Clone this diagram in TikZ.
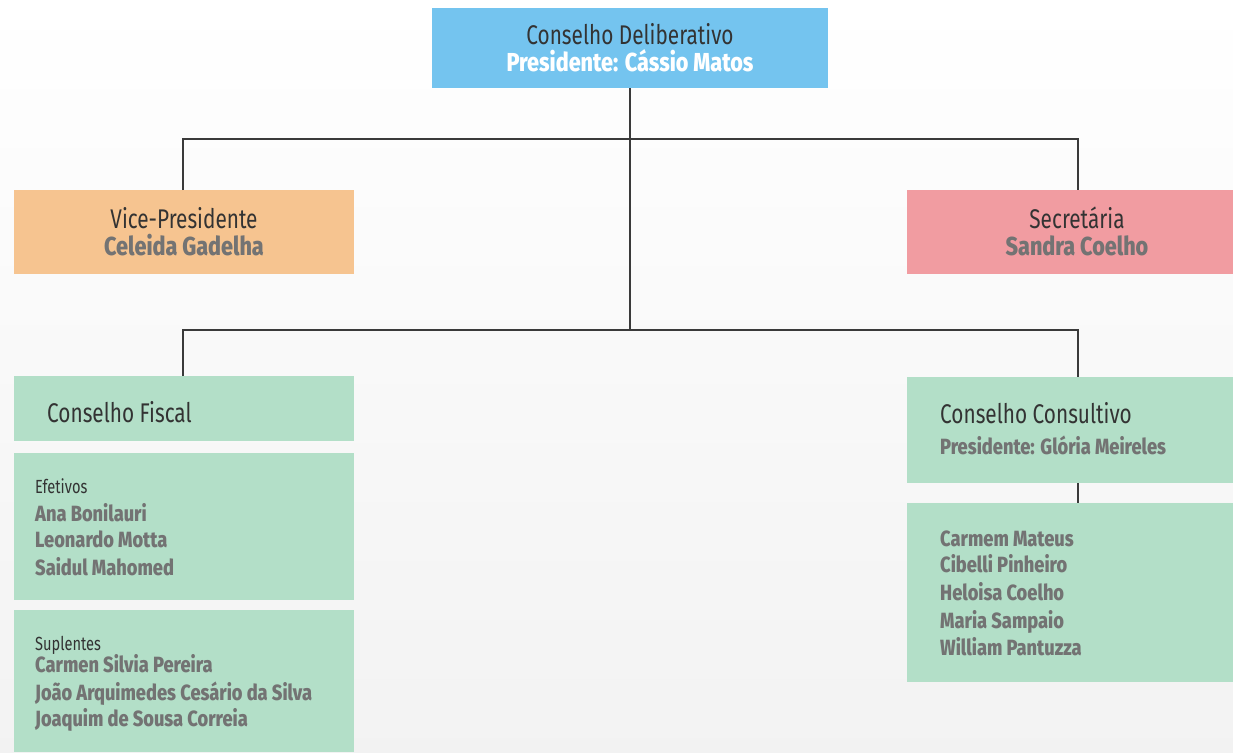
\documentclass[tikz,border=0pt]{standalone}
\usepackage{fontspec}
\setmainfont[FakeStretch=0.77]{Fira Sans}
\newfontfamily\nomefont[FakeStretch=0.83]{Fira Sans ExtraBold}
\usepackage{tikz}

\definecolor{delibblue}{HTML}{74C4EF}
\definecolor{viceorange}{HTML}{F6C490}
\definecolor{secpink}{HTML}{F19CA1}
\definecolor{conselhogreen}{HTML}{B3DFC8}
\definecolor{nomegray}{HTML}{737373}
\definecolor{cargodark}{HTML}{333333}
\definecolor{linhagray}{HTML}{3A3A3A}

\begin{document}
\begin{tikzpicture}[x=1pt,y=-1pt,
  box/.style={draw=none,inner sep=0pt,outer sep=0pt},
  cargo/.style={inner sep=0pt,text=cargodark,font=\fontsize{27}{30}\selectfont},
  rotulo/.style={inner sep=0pt,text=cargodark,font=\fontsize{19}{22}\selectfont},
  nome/.style={inner sep=0pt,text=nomegray,font=\nomefont\fontsize{22}{26}\selectfont},
  titular/.style={nome,font=\nomefont\fontsize{26}{29}\selectfont},
  linha/.style={draw=linhagray,line width=1.3pt}]
\useasboundingbox (0,0) rectangle (1233,752);
\fill [top color=white,bottom color=gray!10] (0,0) rectangle (1233,752);

% caixas
\node [box,fill=delibblue,minimum width=396pt,minimum height=80pt] (delib) at (630,48) {};
\node [box,fill=viceorange,minimum width=340pt,minimum height=84pt] (vice) at (184,232) {};
\node [box,fill=secpink,minimum width=326pt,minimum height=84pt] (sec) at (1070,232) {};
\node [box,fill=conselhogreen,minimum width=340pt,minimum height=65pt] (fiscal) at (184,408.5) {};
\node [box,fill=conselhogreen,minimum width=340pt,minimum height=147pt] (efetivos) at (184,526.5) {};
\node [box,fill=conselhogreen,minimum width=340pt,minimum height=142pt] (suplentes) at (184,681) {};
\node [box,fill=conselhogreen,minimum width=326pt,minimum height=106pt] (consult) at (1070,430) {};
\node [box,fill=conselhogreen,minimum width=326pt,minimum height=179pt] (membros) at (1070,592.5) {};

% ligacoes
\coordinate (j1) at (630,139);
\coordinate (j2) at (630,330);
\coordinate (vtop) at (183,190);
\coordinate (stop) at (1078,190);
\coordinate (ftop) at (183,376);
\coordinate (ctop) at (1078,377);
\coordinate (cbot) at (1078,483);
\coordinate (mtop) at (1078,503);
\draw [linha] (delib.south) -- (j2);
\draw [linha] (vtop) |- (j1) -| (stop);
\draw [linha] (ftop) |- (j2) -| (ctop);
\draw [linha] (cbot) -- (mtop);

% textos
\node [cargo,anchor=base] (delibA) at (630,45) {Conselho Deliberativo};
\node [titular,text=white,anchor=base] (delibB) at (630,71) {Presidente: Cássio Matos};
\node [cargo,anchor=base] (viceA) at (184,228) {Vice-Presidente};
\node [titular,anchor=base] (viceB) at (184,255) {Celeida Gadelha};
\node [cargo,anchor=base] (secA) at (1077,228) {Secretária};
\node [titular,anchor=base] (secB) at (1077,255) {Sandra Coelho};

\node [cargo,anchor=base west] (fiscalA) at (47,422) {Conselho Fiscal};
\node [rotulo,anchor=base west] (efA) at (35,493) {Efetivos};
\node [nome,anchor=base west] (ef1) at (35,521) {Ana Bonilauri};
\node [nome,anchor=base west] (ef2) at (35,547) {Leonardo Motta};
\node [nome,anchor=base west] (ef3) at (35,575) {Saidul Mahomed};
\node [rotulo,anchor=base west] (supA) at (35,650) {Suplentes};
\node [nome,anchor=base west] (sup1) at (35,672) {Carmen Silvia Pereira};
\node [nome,anchor=base west] (sup2) at (35,700) {João Arquimedes Cesário da Silva};
\node [nome,anchor=base west] (sup3) at (35,726) {Joaquim de Sousa Correia};

\node [cargo,anchor=base west] (consultA) at (940,423) {Conselho Consultivo};
\node [nome,anchor=base west] (consultB) at (940,454) {Presidente: Glória Meireles};
\node [nome,anchor=base west] (m1) at (940,546) {Carmem Mateus};
\node [nome,anchor=base west] (m2) at (940,572) {Cibelli Pinheiro};
\node [nome,anchor=base west] (m3) at (940,600) {Heloisa Coelho};
\node [nome,anchor=base west] (m4) at (940,628) {Maria Sampaio};
\node [nome,anchor=base west] (m5) at (940,655) {William Pantuzza};
\end{tikzpicture}
\end{document}
